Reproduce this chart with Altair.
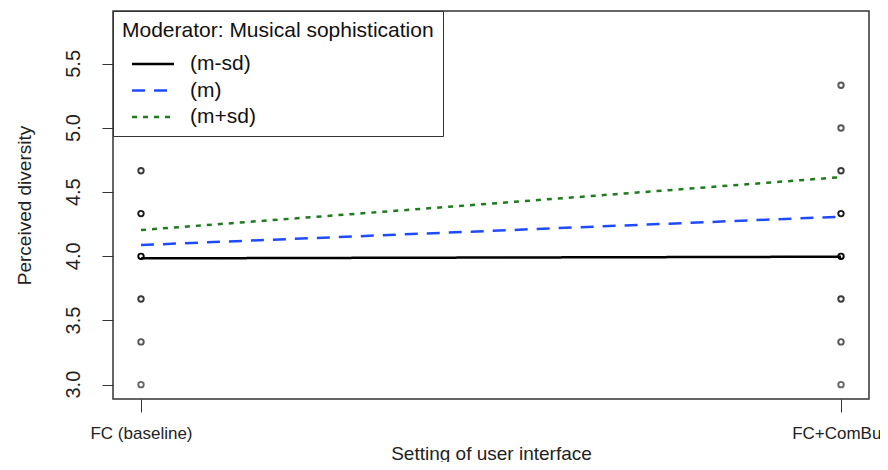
import altair as alt
import pandas as pd

# ---- data ----
x_labels = ["FC (baseline)", "FC+ComBub"]
x_pos = [0, 1]

y_ticks = [3.0, 3.5, 4.0, 4.5, 5.0, 5.5]
y_tick_labels = ["3.0", "3.5", "4.0", "4.5", "5.0", "5.5"]

fc_y = [3.0, 3.333, 3.667, 4.0, 4.333, 4.667]
fc_counts = [1, 2, 4, 8, 6, 4]
cb_y = [3.0, 3.333, 3.667, 4.0, 4.333, 4.667, 5.0, 5.333]
cb_counts = [1, 2, 4, 8, 6, 4, 2, 2]

series = ["(m-sd)", "(m)", "(m+sd)"]
line_msd = [3.984, 3.997]
line_m = [4.088, 4.309]
line_mpsd = [4.205, 4.617]

colors = ["#000000", "#1f4bff", "#1e7b1e"]
dashes = [[1, 0], [13, 9], [5, 6]]

pts = pd.DataFrame(
    {"x": [0] * len(fc_y) + [1] * len(cb_y),
     "y": fc_y + cb_y,
     "n": fc_counts + cb_counts}
)

lines = pd.DataFrame(
    {"x": x_pos * 3,
     "y": line_msd + line_m + line_mpsd,
     "series": [series[0]] * 2 + [series[1]] * 2 + [series[2]] * 2}
)

ticks_df = pd.DataFrame({"y": y_ticks, "label": y_tick_labels})

xscale = alt.Scale(domain=[-0.04, 1.04], nice=False, zero=False)
yscale = alt.Scale(domain=[2.888, 5.912], nice=False, zero=False)

xaxis = alt.Axis(
    values=x_pos,
    labelExpr="datum.value == 0 ? '%s' : '%s'" % (x_labels[0], x_labels[1]),
    title="Setting of user interface",
    grid=False, domain=False, tickSize=13, tickColor="#333",
    labelFontSize=17, labelPadding=13, labelColor="#222",
    titleFontSize=19, titleFontWeight="normal", titlePadding=3, titleColor="#222",
)
yaxis = alt.Axis(
    values=y_ticks, labels=False,
    title="Perceived diversity",
    grid=False, domain=False, tickSize=11, tickColor="#333",
    titleFontSize=19, titleFontWeight="normal", titlePadding=67, titleColor="#222",
)

points = alt.Chart(pts).mark_point(
    shape="circle", filled=False, size=30, strokeWidth=1.9, color="black"
).encode(
    x=alt.X("x:Q", scale=xscale, axis=xaxis),
    y=alt.Y("y:Q", scale=yscale, axis=yaxis),
    opacity=alt.Opacity("n:Q", scale=alt.Scale(domain=[1, 8], range=[0.6, 1]), legend=None),
)

ylabels = alt.Chart(ticks_df).mark_text(
    angle=270, align="center", baseline="middle", fontSize=20, color="#222"
).encode(
    y=alt.Y("y:Q", scale=yscale),
    x=alt.value(-39.5),
    text="label:N",
)

legend = alt.Legend(
    title="Moderator: Musical sophistication",
    orient="none", legendX=0, legendY=0,
    strokeColor="#333", fillColor="white", padding=9,
    titleFontSize=21, titleFontWeight="normal", titleColor="#111", titleLimit=500,
    labelFontSize=21, labelColor="#111",
    symbolType="M-2,0H2", symbolSize=441, symbolStrokeWidth=2.5,
    symbolOffset=19, labelOffset=25, rowPadding=4.5, titlePadding=11,
)

line_layer = alt.Chart(lines).mark_line(strokeWidth=2.5).encode(
    x=alt.X("x:Q", scale=xscale),
    y=alt.Y("y:Q", scale=yscale),
    color=alt.Color("series:N", scale=alt.Scale(domain=series, range=colors), legend=legend),
    strokeDash=alt.StrokeDash("series:N", scale=alt.Scale(domain=series, range=dashes), legend=legend),
    detail="series:N",
)

chart = alt.layer(line_layer, points, ylabels).properties(
    width=756, height=388,
    autosize=alt.AutoSizeParams(type="none"),
    padding={"left": 105, "top": 3, "right": 11, "bottom": 63},
).configure(
    font="Liberation Sans",
).configure_view(
    stroke="#333", strokeWidth=1.5,
)

chart.save("out.html", embed_options={"renderer": "svg", "actions": False})
